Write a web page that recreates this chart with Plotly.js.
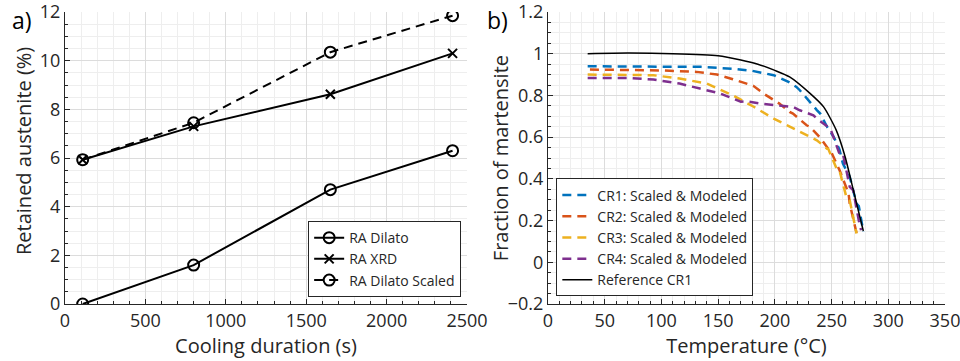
<!DOCTYPE html>
<html>
<head>
<meta charset="utf-8">
<script src="https://cdn.plot.ly/plotly-3.0.1.min.js"></script>
<style>html,body{margin:0;padding:0;background:#fff;}#chart{width:960px;height:361px;}</style>
</head>
<body>
<div id="chart"></div>
<script>
// ---- Panel a) data ----
const coolingDuration = [110, 800, 1650, 2410];
const raDilato = [0, 1.6, 4.7, 6.3];
const raXRD = [5.93, 7.3, 8.62, 10.3];
const raDilatoScaled = [5.93, 7.45, 10.35, 11.85];

// ---- Panel b) data ----
const cr1T = [35, 70, 100, 135, 163, 180, 199, 212, 219, 222, 237, 240, 246, 252, 257, 260, 266, 272, 274, 278];
const cr1F = [0.94, 0.94, 0.94, 0.937, 0.928, 0.918, 0.897, 0.865, 0.841, 0.825, 0.73, 0.713, 0.65, 0.6, 0.54, 0.473, 0.41, 0.282, 0.27, 0.146];
const cr2T = [37, 100, 131, 149, 163, 174, 181, 190, 204, 213, 216, 228, 231, 240, 247, 249, 257, 265, 266, 272];
const cr2F = [0.924, 0.92, 0.913, 0.9, 0.878, 0.857, 0.846, 0.809, 0.761, 0.721, 0.713, 0.657, 0.649, 0.597, 0.545, 0.537, 0.442, 0.33, 0.282, 0.14];
const cr3T = [35, 70, 93, 116, 140, 163, 181, 199, 216, 219, 234, 237, 246, 247, 255, 257, 263, 266, 272];
const cr3F = [0.9, 0.9, 0.897, 0.881, 0.857, 0.8, 0.747, 0.689, 0.641, 0.633, 0.593, 0.585, 0.545, 0.545, 0.442, 0.44, 0.314, 0.298, 0.138];
const cr4T = [35, 72, 93, 116, 134, 152, 170, 175, 187, 205, 216, 222, 234, 237, 249, 257, 260, 266, 269, 274, 276];
const cr4F = [0.884, 0.884, 0.876, 0.857, 0.833, 0.809, 0.77, 0.772, 0.761, 0.753, 0.745, 0.729, 0.705, 0.689, 0.64, 0.52, 0.521, 0.362, 0.346, 0.2, 0.154];
const refT = [35, 70, 110, 150, 170, 185, 200, 213, 231, 243, 254, 262, 269, 278];
const refF = [1.0, 1.003, 1.0, 0.99, 0.97, 0.95, 0.92, 0.889, 0.81, 0.745, 0.635, 0.505, 0.35, 0.15];

const names = ['RA Dilato', 'RA XRD', 'RA Dilato Scaled'];
const crNames = ['CR1: Scaled & Modeled', 'CR2: Scaled & Modeled', 'CR3: Scaled & Modeled', 'CR4: Scaled & Modeled', 'Reference CR1'];
const crColors = ['#0072BD', '#D95319', '#EDB120', '#7E2F8E'];

const FONT = '"Open Sans", "Liberation Sans", Arial, sans-serif';
const TXT = '#262626';

const traces = [
  {x: coolingDuration, y: raDilato, name: names[0], mode: 'lines+markers', xaxis: 'x', yaxis: 'y', legend: 'legend',
   line: {color: '#000', width: 2}, marker: {symbol: 'circle-open', size: 11, color: '#000', line: {width: 2}}},
  {x: coolingDuration, y: raXRD, name: names[1], mode: 'lines+markers', xaxis: 'x', yaxis: 'y', legend: 'legend',
   line: {color: '#000', width: 2}, marker: {symbol: 'x-thin-open', size: 9, color: '#000', line: {width: 2, color: '#000'}}},
  {x: coolingDuration, y: raDilatoScaled, name: names[2], mode: 'lines+markers', xaxis: 'x', yaxis: 'y', legend: 'legend',
   line: {color: '#000', width: 2, dash: '9px,6px'}, marker: {symbol: 'circle-open', size: 11, color: '#000', line: {width: 2}}},
];
const crT = [cr1T, cr2T, cr3T, cr4T];
const crF = [cr1F, cr2F, cr3F, cr4F];
for (let i = 0; i < 4; i++) {
  traces.push({x: crT[i], y: crF[i], name: crNames[i], mode: 'lines', xaxis: 'x2', yaxis: 'y2', legend: 'legend2',
    line: {color: crColors[i], width: 2.5, dash: '9px,6px'}});
}
traces.push({x: refT, y: refF, name: crNames[4], mode: 'lines', xaxis: 'x2', yaxis: 'y2', legend: 'legend2',
  line: {color: '#000', width: 1.5, shape: 'spline', smoothing: 0.6}});

function axisBase() {
  return {
    showline: true, linecolor: '#262626', linewidth: 1, mirror: false,
    ticks: 'inside', ticklen: 5, tickcolor: '#262626', tickwidth: 1,
    showgrid: true, gridcolor: '#dcdcdc', gridwidth: 1, zeroline: false,
    tickfont: {family: FONT, size: 18, color: TXT},
    ticklabeloverflow: 'allow',
    fixedrange: true
  };
}
const minorBase = (d) => ({dtick: d, showgrid: true, gridcolor: '#eeeeee', ticks: 'inside', ticklen: 3, tickcolor: '#262626'});
const xa = Object.assign(axisBase(), {domain: [0.0677, 0.4865], range: [0, 2500.01], dtick: 500, tick0: 0,
  minor: minorBase(100),
  title: {text: 'Cooling duration (s)', font: {family: FONT, size: 20, color: TXT}, standoff: 6}});
const ya = Object.assign(axisBase(), {domain: [0, 1], range: [0, 12.001], dtick: 2, tick0: 0,
  minor: minorBase(0.5)});
const xa2 = Object.assign(axisBase(), {domain: [0.5708, 0.9844], range: [0, 350.01], dtick: 50, tick0: 0, anchor: 'y2',
  minor: minorBase(10),
  title: {text: 'Temperature (°C)', font: {family: FONT, size: 20, color: TXT}, standoff: 6}});
const ya2 = Object.assign(axisBase(), {domain: [0, 1], range: [-0.2, 1.2001], dtick: 0.2, tick0: 0, anchor: 'x2',
  minor: minorBase(0.05)});

const layout = {
  width: 960, height: 361,
  margin: {l: 0, r: 0, t: 12, b: 57},
  paper_bgcolor: '#fff', plot_bgcolor: '#fff',
  showlegend: true,
  xaxis: xa, yaxis: ya, xaxis2: xa2, yaxis2: ya2,
  legend: {x: 0.321, y: 0.284, xanchor: 'left', yanchor: 'top', bgcolor: '#fff', bordercolor: '#262626', borderwidth: 1,
    font: {family: FONT, size: 14, color: TXT}, tracegroupgap: 0, itemwidth: 30},
  legend2: {x: 0.5795, y: 0.43, xanchor: 'left', yanchor: 'top', bgcolor: '#fff', bordercolor: '#262626', borderwidth: 1,
    font: {family: FONT, size: 14, color: TXT}, tracegroupgap: 0, itemwidth: 30},
  annotations: [
    {text: 'a)', xref: 'paper', yref: 'paper', x: 0.01, y: 1.035, xanchor: 'left', yanchor: 'top', showarrow: false,
     font: {family: FONT, size: 23, color: '#000'}},
    {text: 'b)', xref: 'paper', yref: 'paper', x: 0.505, y: 1.035, xanchor: 'left', yanchor: 'top', showarrow: false,
     font: {family: FONT, size: 23, color: '#000'}},
    {text: 'Retained austenite (%)', xref: 'paper', yref: 'paper', x: 0.025, y: 0.524, xanchor: 'center', yanchor: 'middle',
     textangle: -90, showarrow: false, font: {family: FONT, size: 20, color: TXT}},
    {text: 'Fraction of martensite', xref: 'paper', yref: 'paper', x: 0.521, y: 0.5, xanchor: 'center', yanchor: 'middle',
     textangle: -90, showarrow: false, font: {family: FONT, size: 20, color: TXT}}
  ]
};

Plotly.newPlot('chart', traces, layout, {displayModeBar: false, staticPlot: true});
</script>
</body>
</html>
